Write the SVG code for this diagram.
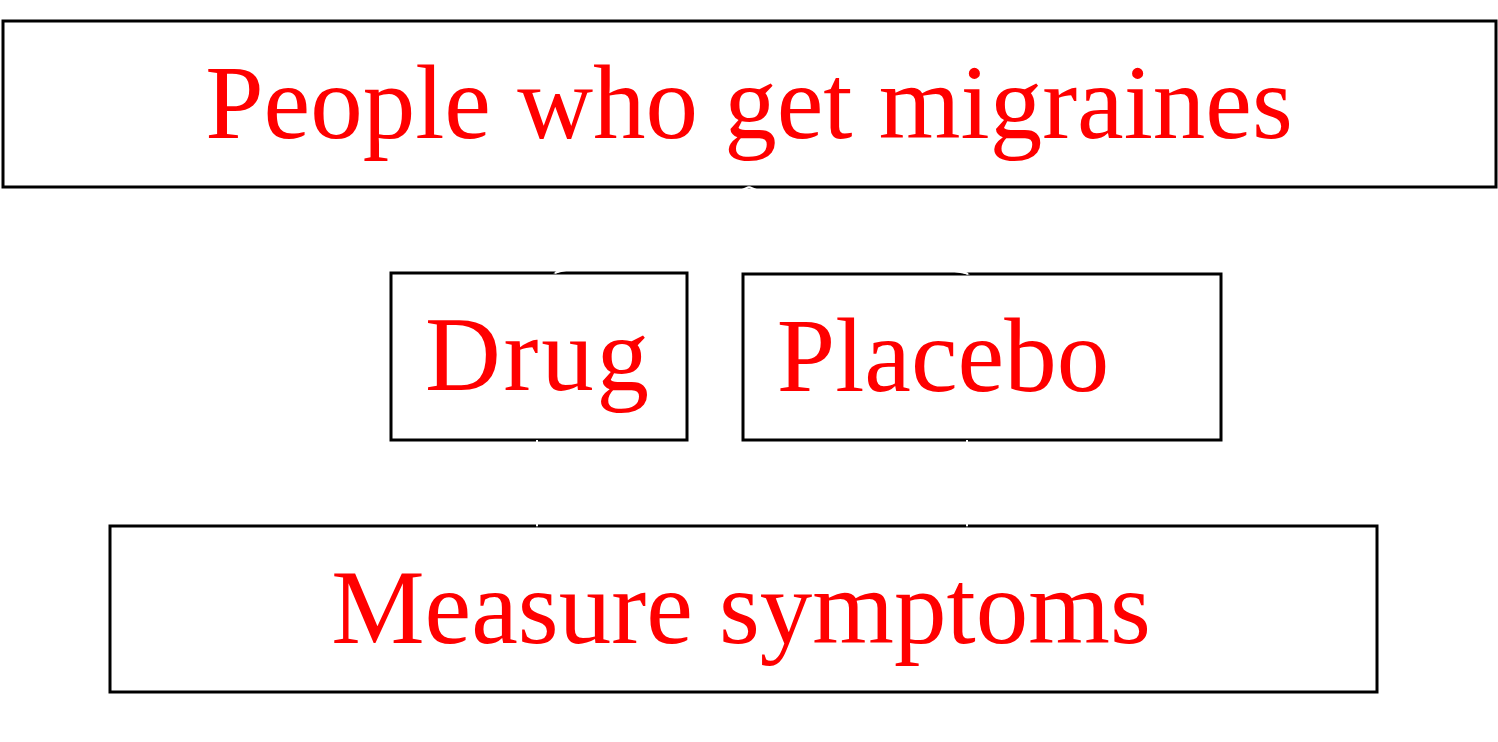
<svg xmlns="http://www.w3.org/2000/svg" width="1498" height="742" viewBox="0 0 1498 742">
<style>
.box{fill:#fff;stroke:#000;stroke-width:3}
.lbl{font-family:"Liberation Serif",serif;font-size:105px;fill:#f00;text-anchor:middle}
.conn{stroke:#fff;stroke-width:2;fill:none}
</style>
<defs>
<marker id="ah" markerWidth="24" markerHeight="10" refX="22" refY="5" orient="auto" markerUnits="userSpaceOnUse">
<path d="M0,0 L24,5 L0,10 Z" fill="#fff"/>
</marker>
</defs>
<rect width="1498" height="742" fill="#fff"/>
<g id="people">
<rect class="box" x="3" y="21" width="1493" height="166"/>
<text class="lbl" x="749" y="138">People who get migraines</text>
</g>
<g id="drug">
<rect class="box" x="391" y="273" width="296" height="167"/>
<text class="lbl" x="537" y="390" textLength="224" lengthAdjust="spacing">Drug</text>
</g>
<g id="placebo">
<rect class="box" x="743" y="274" width="478" height="166"/>
<text class="lbl" x="943" y="391">Placebo</text>
</g>
<g id="measure">
<rect class="box" x="110" y="526" width="1267" height="166"/>
<text class="lbl" x="741" y="643">Measure symptoms</text>
</g>
<g id="connectors">
<line class="conn" x1="749" y1="187" x2="555" y2="273" marker-end="url(#ah)"/>
<line class="conn" x1="749" y1="187" x2="968" y2="274" marker-end="url(#ah)"/>
<line class="conn" x1="537" y1="440" x2="537" y2="526" marker-end="url(#ah)"/>
<line class="conn" x1="967" y1="440" x2="967" y2="526" marker-end="url(#ah)"/>
</g>
</svg>
